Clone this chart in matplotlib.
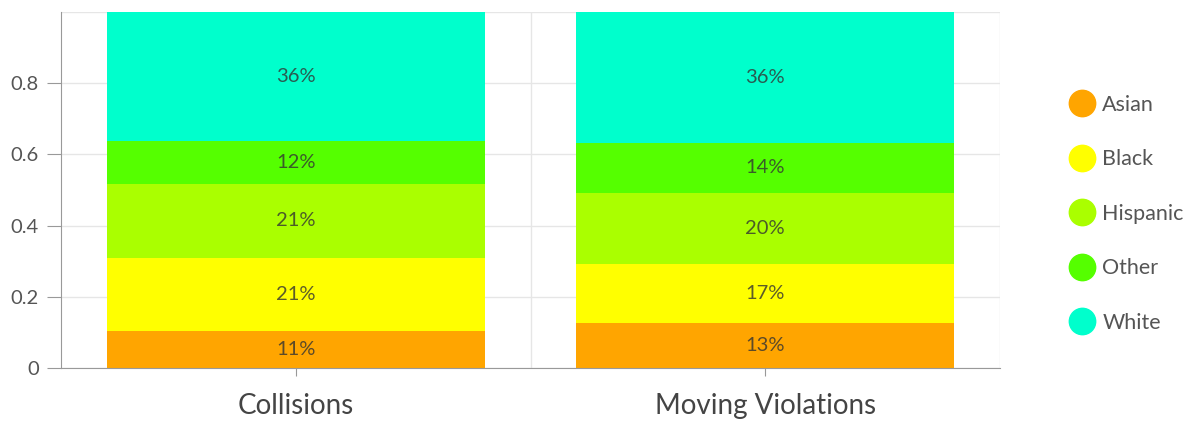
import numpy as np
import matplotlib.pyplot as plt
from matplotlib.lines import Line2D

plt.rcParams['font.family'] = ['Lato', 'DejaVu Sans']

categorias = ['Collisions', 'Moving Violations']
grupos = ['Asian', 'Black', 'Hispanic', 'Other', 'White']
colores = ['#FFA500', '#FFFF00', '#AAFF00', '#55FF00', '#00FFCC']

# fracciones
asian = [0.104, 0.126]
black = [0.205, 0.166]
hispanic = [0.208, 0.200]
other = [0.121, 0.140]
white = [0.362, 0.368]
etiquetas = [['11%', '13%'], ['21%', '17%'], ['21%', '20%'], ['12%', '14%'], ['36%', '36%']]

series = [asian, black, hispanic, other, white]

fig = plt.figure(figsize=(11.88, 4.21), dpi=100)
ax = fig.add_axes([61/1188, 53/421, 939/1188, 356/421])

x = np.arange(len(categorias))
base = np.zeros(len(categorias))
for i in range(len(series)):
    vals = np.array(series[i])
    ax.bar(x, vals, bottom=base, width=0.805, color=colores[i], zorder=2)
    for j in range(len(x)):
        ax.text(x[j], base[j] + vals[j] / 2, etiquetas[i][j], ha='center', va='center',
                fontsize=14.5, color='#333333', alpha=0.8, zorder=3)
    base = base + vals

ax.set_xlim(-0.5, 1.5)
ax.set_ylim(0, 1.0)
ax.set_yticks([0, 0.2, 0.4, 0.6, 0.8])
ax.set_yticklabels(['0', '0.2', '0.4', '0.6', '0.8'])
ax.set_xticks(x)
ax.set_xticklabels(categorias, fontsize=20, color='#444444')
ax.set_xticks([0.5, 1.5], minor=True)
ax.tick_params(axis='y', labelsize=14.5, labelcolor='#555555', color='#999999', length=10, pad=6)
ax.tick_params(axis='x', which='major', color='#999999', length=6, pad=12)
ax.tick_params(axis='x', which='minor', length=0)

# rejilla
ax.yaxis.grid(True, color='#e6e6e6', linewidth=1, zorder=0)
ax.xaxis.grid(True, which='minor', color='#e6e6e6', linewidth=1, zorder=0)
ax.axhline(1.0, color='#e6e6e6', linewidth=1, zorder=0)
ax.set_axisbelow(True)

for s in ['top', 'right']:
    ax.spines[s].set_visible(False)
ax.spines['left'].set_color('#999999')
ax.spines['bottom'].set_color('#999999')

handles = [Line2D([0], [0], marker='o', linestyle='', markersize=19,
                  markerfacecolor=colores[i], markeredgecolor=colores[i]) for i in range(len(grupos))]
fig.legend(handles, grupos, loc='upper left', bbox_to_anchor=(1069/1188, 1 - 95/421),
           frameon=False, fontsize=15.5, labelcolor='#555555', labelspacing=1.6,
           handletextpad=0.35, handlelength=1.2, borderaxespad=0, borderpad=0)

fig.savefig('out.png', dpi=100)
